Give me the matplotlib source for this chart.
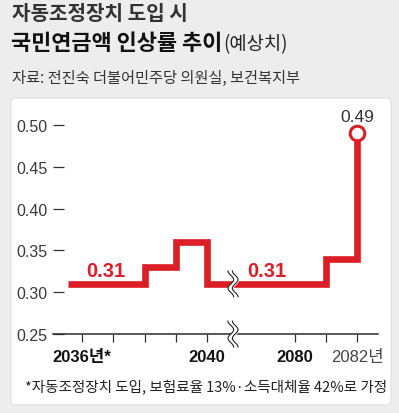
import numpy as np
import matplotlib
matplotlib.use('Agg')
import matplotlib.pyplot as plt
from matplotlib import font_manager
from matplotlib.patches import FancyBboxPatch

# data
years = [2036, 2037, 2038, 2039, 2040, 2080, 2081, 2082]
rates = [0.31, 0.31, 0.33, 0.36, 0.31, 0.31, 0.34, 0.49]
ytick_vals = [0.25, 0.30, 0.35, 0.40, 0.45, 0.50]
xtick_labels = {2036: '2036년*', 2040: '2040', 2080: '2080', 2082: '2082년'}
# flat runs that carry a red value label (first year, year the run ends)
note_runs = [(None, 2038), (2040, 2081)]

KR = 'Noto Sans CJK KR'
names = {f.name for f in font_manager.fontManager.ttflist}
NUM = 'Liberation Sans Narrow' if 'Liberation Sans Narrow' in names else 'Liberation Sans'

RED = '#dc1f26'
W, H = 399, 414


def xpos(y):
    # broken axis: 2036..2040 then 2080..2082 squeezed next to it
    if y <= 2040:
        return y - 2036
    return 4 + 2.8 + (y - 2080)


def px(x, y):
    return x / W, 1 - y / H


fig = plt.figure(figsize=(W / 100, H / 100), dpi=100)
fig.patch.set_facecolor('#ededed')

# white card
card = FancyBboxPatch(px(11, 406), 380 / W, 307 / H,
                      boxstyle='round,pad=0,rounding_size=0.012',
                      transform=fig.transFigure, facecolor='white',
                      edgecolor='#e0e0e0', linewidth=0.8, zorder=-5)
fig.patches.append(card)

# titles
fig.text(*px(12, 13), '자동조정장치 도입 시', family=KR, fontsize=14.5,
         fontweight='bold', color='#333333', va='center', ha='left')
t2 = fig.text(*px(11, 44), '국민연금액 인상률 추이', family=KR, fontsize=15.8,
              fontweight='black', color='#111111', va='center', ha='left')
fig.canvas.draw()
bb = t2.get_window_extent()
fig.text(bb.x1 / W + 0.002, 1 - 45 / H, '(예상치)', family=KR, fontsize=13.5,
         fontweight='medium', color='#222222', va='center', ha='left')
fig.text(*px(12, 78), '자료: 전진숙 더불어민주당 의원실, 보건복지부', family=KR,
         fontsize=11, color='#333333', va='center', ha='left')

# axes: y 0.25 at px 335, 0.05 per 41.8 px; x tick step 31.3 px
# ylim starts a little below 0.25 so the axis line sits inside the axes
ax = fig.add_axes([53 / W, 74.8 / H, 325 / W, 238.2 / H], zorder=2)
ax.set_facecolor('none')
step = 31.3
ax.set_xlim((53 - 82) / step, (378 - 82) / step)
ax.set_ylim(0.245, 0.53)

xs = [xpos(y) for y in years]
start = (68 - 82) / step
ax.step([start] + xs, [rates[0]] + rates, where='post', color=RED, lw=4.8,
        solid_joinstyle='miter', solid_capstyle='butt', zorder=3)
ax.plot(xs[-1], rates[-1], 'o', ms=10.5, mfc='white', mec=RED, mew=2.2, zorder=4)
ax.text(xs[-1], rates[-1] + 0.011, f'{rates[-1]:.2f}', family=NUM, fontsize=12.5,
        color='#333333', ha='center', va='bottom')

for y0, y1 in note_runs:
    x0 = start if y0 is None else xpos(y0)
    v = rates[years.index(y1) - 1]
    ax.text((x0 + xpos(y1)) / 2, v + 0.0092, f'{v:.2f}', family=NUM, fontsize=14.5,
            fontweight='bold', color=RED, ha='center', va='baseline')

# only the bottom spine, moved up to 0.25, serves as the axis line
for name, s in ax.spines.items():
    s.set_visible(name == 'bottom')
ax.spines['bottom'].set_position(('data', 0.25))
ax.spines['bottom'].set_color('#2a2a2a')
ax.spines['bottom'].set_linewidth(1.1)
ax.spines['bottom'].set_zorder(2.5)

ax.set_yticks(ytick_vals)
ax.set_yticklabels([f'{v:.2f}' for v in ytick_vals], family=NUM, fontsize=11.5,
                   color='#3a3a3a')
ax.tick_params(axis='y', direction='in', length=8, width=0.9, pad=4,
               color='#333333')
ax.set_xticks(xs)
ax.set_xticklabels([xtick_labels.get(y, '') for y in years], fontsize=12,
                   family=[NUM, KR], color='#111111')
ax.tick_params(axis='x', direction='out', length=5.5, width=0.9, pad=5,
               color='#333333')
for lab, y in zip(ax.get_xticklabels(), years):
    if y == 2082:
        lab.set_color('#444444')
    elif y in xtick_labels:
        lab.set_fontweight('bold')

# break marks
bx = (233 - 82) / step
ty = np.linspace(-1, 1, 60)
for yc in (0.31, 0.25):
    half = 0.0155
    ycurve = yc + ty * half
    xw = 0.09 * np.sin(ty * np.pi * 1.5)
    ax.fill_betweenx(ycurve, bx - 0.07 + xw, bx + 0.07 + xw, color='white',
                     zorder=5, clip_on=False)
    ax.plot(bx - 0.07 + xw, ycurve, color='#222222', lw=0.8, zorder=6, clip_on=False)
    ax.plot(bx + 0.07 + xw, ycurve, color='#222222', lw=0.8, zorder=6, clip_on=False)

fig.text(*px(25, 387), '*자동조정장치 도입, 보험료율 13%·소득대체율 42%로 가정',
         family=KR, fontsize=10.5, color='#222222', va='center', ha='left')

fig.savefig('out.png', dpi=100, facecolor=fig.get_facecolor())
